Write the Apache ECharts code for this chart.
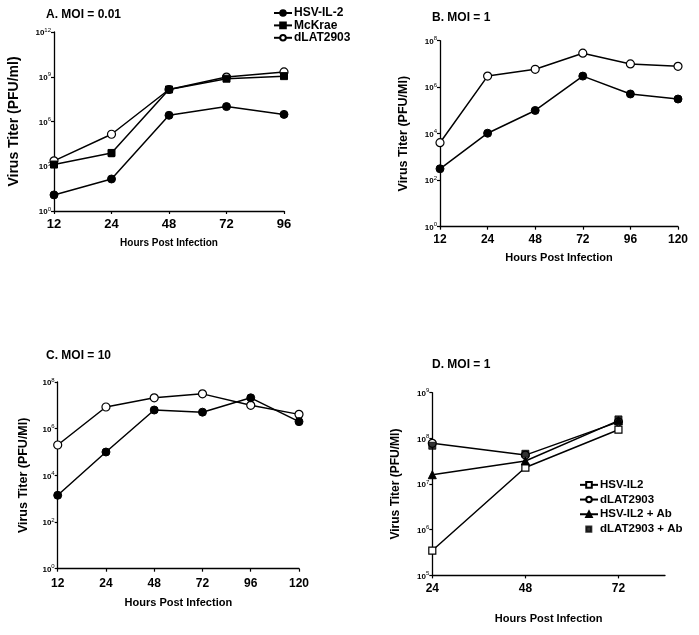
<!DOCTYPE html>
<html>
<head>
<meta charset="utf-8">
<script src="https://cdn.jsdelivr.net/npm/echarts@6/dist/echarts.min.js"></script>
<style>
html,body{margin:0;padding:0;background:#fff;}
#chart{width:699px;height:635px;}
</style>
</head>
<body>
<div id="chart"></div>
<script>
// ---- Data ----
const hoursA = ['12', '24', '48', '72', '96'];
const hoursBC = ['12', '24', '48', '72', '96', '120'];
const hoursD = [24, 48, 72];

// Panel A: MOI = 0.01 (PFU/ml)
const aHSVIL2 = [1.2e1, 1.4e2, 2.6e6, 1.0e7, 3.0e6];
const aMcKrae = [1.3e3, 7.8e3, 1.4e8, 7.4e8, 1.1e9];
const aDLAT = [2.3e3, 1.4e5, 1.4e8, 9.5e8, 2.1e9];
const aMcKraeErr24 = [4.4e3, 1.3e4]; // error bar at 24 h (low, high)

// Panel B: MOI = 1
const bHSVIL2 = [3.1e2, 1.05e4, 1.0e5, 3.0e6, 5.1e5, 3.1e5];
const bDLAT = [4.1e3, 3.0e6, 5.9e6, 2.9e7, 1.0e7, 7.9e6];

// Panel C: MOI = 10
const cHSVIL2 = [1.4e3, 1.0e5, 6.3e6, 5.1e6, 2.1e7, 2.0e6];
const cDLAT = [2.0e5, 8.5e6, 2.1e7, 3.1e7, 1.0e7, 4.1e6];

// Panel D: MOI = 1
const dHSVIL2 = [3.5e5, 2.3e7, 1.55e8];
const dDLAT = [7.8e7, 4.3e7, 2.3e8];
const dHSVIL2Ab = [1.6e7, 3.2e7, 2.45e8];
const dDLATAb = [6.9e7, 4.6e7, 2.6e8];

// Tick values
const yTicksA = [1, 1e3, 1e6, 1e9, 1e12];
const yTicksBC = [1, 1e2, 1e4, 1e6, 1e8];
const yTicksD = [1e5, 1e6, 1e7, 1e8, 1e9];
const xTicksD = [24, 48, 72];

// ---- Styling helpers ----
const FONT = 'Liberation Sans, Arial, sans-serif';
const BLACK = '#000';

function supLabel(v) {
  const e = Math.round(Math.log10(v));
  return '{b|10}{s|' + e + '}';
}

function yAxis(gridIndex, min, max, ticks, interval, nameSize, nameGap) {
  return {
    type: 'log', logBase: 10, gridIndex: gridIndex,
    min: min, max: max, interval: interval,
    name: gridIndex === 0 ? 'Virus Titer (PFU/ml)' : 'Virus Titer (PFU/Ml)',
    nameLocation: 'middle', nameGap: nameGap, nameRotate: 90,
    nameTextStyle: {fontFamily: FONT, fontWeight: 'bold', fontSize: nameSize, color: BLACK},
    axisLine: {show: true, lineStyle: {color: BLACK, width: 1.3}},
    axisTick: {show: true, length: 3, customValues: ticks, lineStyle: {color: BLACK, width: 1.2}},
    minorTick: {show: false},
    splitLine: {show: false},
    axisLabel: {
      customValues: ticks, margin: 3, formatter: supLabel,
      rich: {
        b: {fontFamily: FONT, fontWeight: 'bold', fontSize: 8, color: BLACK, lineHeight: 10, verticalAlign: 'bottom'},
        s: {fontFamily: FONT, fontSize: 6, color: BLACK, lineHeight: 6, verticalAlign: 'top'}
      }
    }
  };
}

function xCat(gridIndex, cats, labelSize, labelMargin, nameSize, nameGap) {
  return {
    type: 'category', gridIndex: gridIndex, data: cats, boundaryGap: false,
    name: 'Hours Post Infection', nameLocation: 'middle', nameGap: nameGap,
    nameTextStyle: {fontFamily: FONT, fontWeight: 'bold', fontSize: nameSize, color: BLACK},
    axisLine: {show: true, lineStyle: {color: BLACK, width: 1.3}},
    axisTick: {show: true, length: 3, alignWithLabel: true, lineStyle: {color: BLACK, width: 1.2}},
    splitLine: {show: false},
    axisLabel: {fontFamily: FONT, fontWeight: 'bold', fontSize: labelSize, color: BLACK, margin: labelMargin, interval: 0}
  };
}

const filledCircle = {symbol: 'circle', symbolSize: 8, itemStyle: {color: BLACK, borderColor: BLACK, borderWidth: 1}};
const openCircle = {symbol: 'circle', symbolSize: 8, itemStyle: {color: '#fff', borderColor: BLACK, borderWidth: 1.2}};
const filledSquare = {symbol: 'rect', symbolSize: 7, itemStyle: {color: BLACK, borderColor: BLACK, borderWidth: 1}};
const openSquare = {symbol: 'rect', symbolSize: 7, itemStyle: {color: '#fff', borderColor: BLACK, borderWidth: 1.2}};
const filledTriangle = {symbol: 'triangle', symbolSize: 8, itemStyle: {color: BLACK, borderColor: BLACK, borderWidth: 1}};

function lineSeries(name, xi, data, mk, z) {
  return Object.assign({
    type: 'line', name: name, xAxisIndex: xi, yAxisIndex: xi, data: data,
    showSymbol: true, showAllSymbol: true, animation: false, z: z || 2,
    lineStyle: {color: BLACK, width: 1.5}
  }, mk);
}

function pairs(xs, ys) { return xs.map((x, i) => [x, ys[i]]); }

const option = {
  backgroundColor: '#fff',
  animation: false,
  title: [
    {text: 'A. MOI = 0.01', left: 46, top: 9},
    {text: 'B. MOI = 1', left: 432, top: 12},
    {text: 'C. MOI = 10', left: 46, top: 350},
    {text: 'D. MOI = 1', left: 432, top: 359}
  ].map(t => Object.assign(t, {padding: 0, textStyle: {fontFamily: FONT, fontWeight: 'bold', fontSize: 12, color: BLACK}})),
  legend: [
    {
      data: ['HSV-IL-2', 'McKrae', 'dLAT2903'],
      orient: 'vertical', left: 273, top: 7, padding: 0, itemWidth: 18, itemHeight: 7, itemGap: 0.4,
      textStyle: {fontFamily: FONT, fontWeight: 'bold', fontSize: 12, color: BLACK, lineHeight: 12, padding: [0, 0, 0, -3]},
      selectedMode: false
    },
    {
      data: ['HSV-IL2', 'dLAT2903', 'HSV-IL2 + Ab',
        {name: 'dLAT2903 + Ab', icon: 'path://M0,0M18,9M5.5,1.5h6.5v6.5h-6.5z'}],
      orient: 'vertical', left: 579, top: 478, padding: 0, itemWidth: 18, itemHeight: 7, itemGap: 1,
      textStyle: {fontFamily: FONT, fontWeight: 'bold', fontSize: 11.5, color: BLACK, lineHeight: 13.7, padding: [0, 0, 0, -3]},
      selectedMode: false
    }
  ],
  grid: [
    {left: 54, top: 32, width: 230, height: 179},
    {left: 440, top: 40.7, width: 238, height: 186},
    {left: 57.7, top: 382, width: 241.3, height: 186.7},
    {left: 432.3, top: 392.7, width: 232.7, height: 182.7}
  ],
  xAxis: [
    xCat(0, hoursA, 13, 7, 10, 27),
    xCat(1, hoursBC, 12, 7, 11, 25.5),
    xCat(2, hoursBC, 12, 9, 11, 28.5),
    {
      type: 'value', gridIndex: 3, min: 24, max: 84, interval: 24,
      name: 'Hours Post Infection', nameLocation: 'middle', nameGap: 38.5,
      nameTextStyle: {fontFamily: FONT, fontWeight: 'bold', fontSize: 11, color: BLACK},
      axisLine: {show: true, lineStyle: {color: BLACK, width: 1.3}},
      axisTick: {show: true, length: 3, customValues: xTicksD, lineStyle: {color: BLACK, width: 1.2}},
      splitLine: {show: false},
      axisLabel: {customValues: xTicksD, fontFamily: FONT, fontWeight: 'bold', fontSize: 12, color: BLACK, margin: 7}
    }
  ],
  yAxis: [
    yAxis(0, 1, 1e12, yTicksA, 3, 14, 33),
    yAxis(1, 1, 1e8, yTicksBC, 2, 12.5, 30),
    yAxis(2, 1, 1e8, yTicksBC, 2, 12.5, 28),
    yAxis(3, 1e5, 1e9, yTicksD, 1, 12, 31)
  ],
  series: [
    // A
    lineSeries('HSV-IL-2', 0, aHSVIL2, filledCircle, 3),
    lineSeries('McKrae', 0, aMcKrae, filledSquare, 4),
    lineSeries('dLAT2903', 0, aDLAT, openCircle, 2),
    {
      type: 'custom', xAxisIndex: 0, yAxisIndex: 0, z: 3, silent: true,
      data: [[1, aMcKraeErr24[0], aMcKraeErr24[1]]],
      renderItem: function (params, api) {
        const lo = api.coord([api.value(0), api.value(1)]);
        const hi = api.coord([api.value(0), api.value(2)]);
        return {
          type: 'group', children: [
            {type: 'line', shape: {x1: lo[0], y1: lo[1], x2: hi[0], y2: hi[1]}, style: {stroke: BLACK, lineWidth: 1.2}},
            {type: 'line', shape: {x1: lo[0] - 3, y1: lo[1], x2: lo[0] + 3, y2: lo[1]}, style: {stroke: BLACK, lineWidth: 1.2}}
          ]
        };
      }
    },
    // B
    lineSeries('HSV-IL-2 (MOI 1)', 1, bHSVIL2, filledCircle, 3),
    lineSeries('dLAT2903 (MOI 1)', 1, bDLAT, openCircle, 2),
    // C
    lineSeries('HSV-IL-2 (MOI 10)', 2, cHSVIL2, filledCircle, 3),
    lineSeries('dLAT2903 (MOI 10)', 2, cDLAT, openCircle, 2),
    // D
    lineSeries('HSV-IL2', 3, pairs(hoursD, dHSVIL2), openSquare, 2),
    lineSeries('dLAT2903', 3, pairs(hoursD, dDLAT), openCircle, 2),
    lineSeries('HSV-IL2 + Ab', 3, pairs(hoursD, dHSVIL2Ab), filledTriangle, 3),
    Object.assign({
      type: 'scatter', name: 'dLAT2903 + Ab', xAxisIndex: 3, yAxisIndex: 3, z: 4,
      data: pairs(hoursD, dDLATAb), animation: false
    }, filledSquare)
  ]
};

const chart = echarts.init(document.getElementById('chart'), null, {renderer: 'canvas'});
chart.setOption(option);
</script>
</body>
</html>
